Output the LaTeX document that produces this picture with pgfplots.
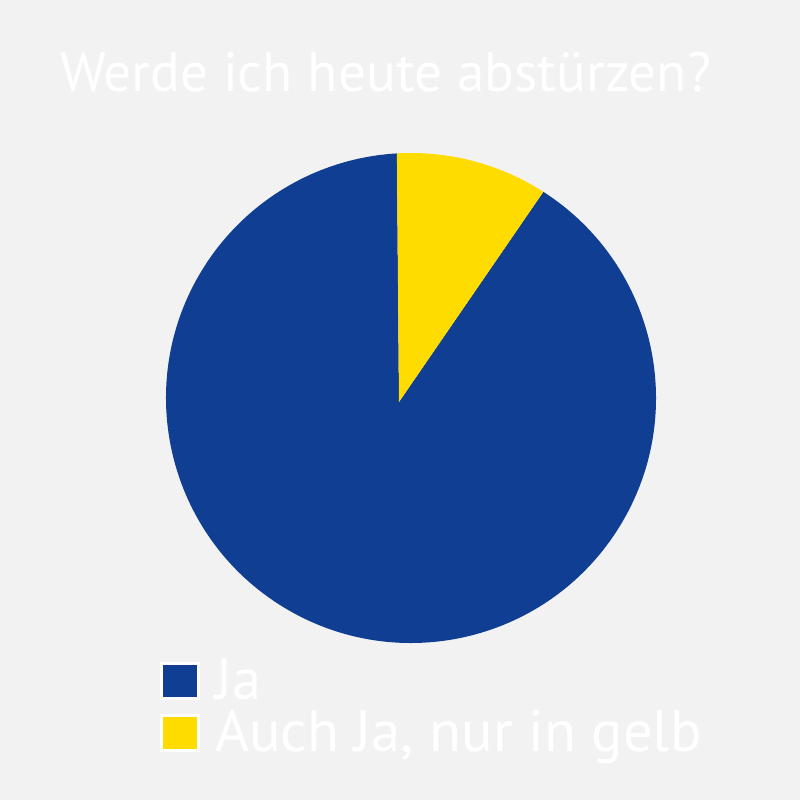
\documentclass[border=0pt]{standalone}
\usepackage{pgfplots}
\usepackage{pgfplotstable}
\pgfplotsset{compat=1.18}
\usepackage{fontspec}
\setmainfont{PT Sans}
\definecolor{bg}{HTML}{F2F2F2}
\definecolor{jablue}{HTML}{0F3E92}
\definecolor{gelb}{HTML}{FEDC00}
\pgfplotstableread{
label value
Ja 90
Gelb 10
}\piedata
\begin{document}
\begin{tikzpicture}[x=1pt,y=1pt]
\useasboundingbox (0,0) rectangle (800,800);
\fill[bg] (0,0) rectangle (800,800);
\node[anchor=base west, inner sep=0pt, text=white, font=\fontsize{55.3}{60}\selectfont] at (60,708) {Werde ich heute abstürzen?};
\pgfplotstablegetelem{0}{value}\of\piedata \edef\vA{\pgfplotsretval}
\pgfplotstablegetelem{1}{value}\of\piedata \edef\vB{\pgfplotsretval}
\pgfmathsetmacro{\tot}{\vA+\vB}
\pgfmathsetmacro{\fB}{\vB/\tot}
\pgfmathsetmacro{\fA}{\vA/\tot}
\pgfmathsetmacro{\angS}{93.3}
\pgfmathsetmacro{\angB}{\angS-360*\fB}
\pgfmathsetmacro{\angA}{\angB-360*\fA}
\begin{axis}[at={(166pt,157pt)}, anchor=south west, scale only axis,
  width=490pt, height=490pt, xmin=-1, xmax=1, ymin=-1, ymax=1,
  hide axis, clip=false,
  legend cell align=left,
  legend image code/.code={\draw[#1, draw=white, line width=3pt] (1.5pt,-10.5pt) rectangle (38.5pt,24.5pt);},
  legend style={draw=none, fill=none, text=white, anchor=north west,
    at={(axis description cs:-0.01224,-0.03878)}, inner sep=0pt, outer sep=0pt,
    row sep=0pt, column sep=15pt,
    font=\fontsize{58.5}{60}\selectfont,
    nodes={inner sep=0pt, text height=38pt, text depth=14pt}},
]
\fill[jablue] (axis cs:-0.049,-0.0163) -- (axis cs:{cos(\angB)},{sin(\angB)}) arc[start angle=\angB, end angle=\angA, radius=245pt] -- cycle;
\fill[gelb] (axis cs:-0.049,-0.0163) -- (axis cs:{cos(\angS)},{sin(\angS)}) arc[start angle=\angS, end angle=\angB, radius=245pt] -- cycle;
\addlegendimage{fill=jablue}
\addlegendentry{Ja}
\addlegendimage{fill=gelb}
\addlegendentry{Auch Ja, nur in gelb}
\end{axis}
\end{tikzpicture}
\end{document}
